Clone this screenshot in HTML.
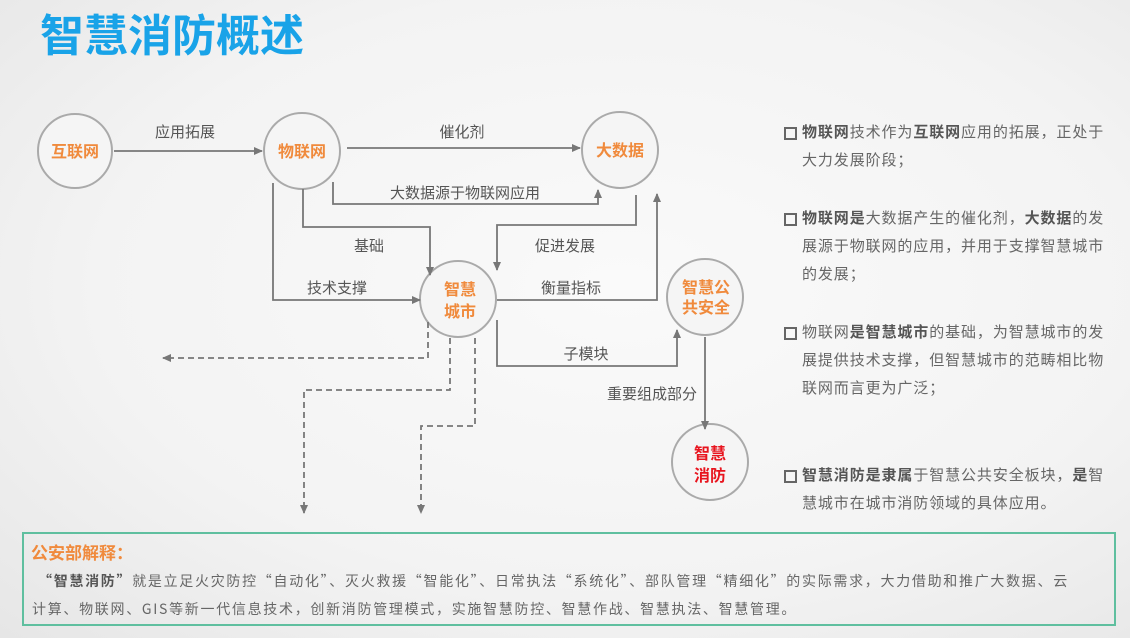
<!DOCTYPE html>
<html><head><meta charset="utf-8"><style>
html,body{margin:0;padding:0}
body{width:1130px;height:638px;overflow:hidden;position:relative;background:radial-gradient(ellipse at 55% 45%,#fafafa 0%,#f3f3f3 60%,#e6e6e6 100%);font-family:"Liberation Sans","Noto Sans CJK SC",sans-serif}
.title{position:absolute;left:40px;top:8px;font-size:44px;font-weight:bold;color:#19a3e8;letter-spacing:0px;line-height:58px}
svg{position:absolute;left:0;top:0}
.r{position:absolute;left:784px;width:322px;font-size:15px;color:#666;line-height:28px;letter-spacing:0.9px}
.r .b{position:absolute;left:0;top:8px;width:9px;height:9px;border:2px solid #666}
.r p{margin:0;padding-left:18px}
.r b{color:#555}
.box{position:absolute;left:22px;top:532px;width:1090px;height:90px;border:2px solid #5fbf9f}
.box .h{position:absolute;left:7px;top:5px;font-size:17px;font-weight:bold;color:#f08a3c}
.box .t{position:absolute;left:8px;top:33px;width:1074px;font-family:"Noto Sans CJK SC","Liberation Sans",sans-serif;font-size:14px;letter-spacing:1.7px;color:#666;line-height:28px;text-indent:6px}
</style></head><body>
<div class="title">智慧消防概述</div>
<svg width="1130" height="638" viewBox="0 0 1130 638">
<defs><marker id="a" markerWidth="10" markerHeight="10" refX="8" refY="5" orient="auto" markerUnits="userSpaceOnUse"><path d="M0,1 L9,5 L0,9 z" fill="#777"/></marker></defs>
<g fill="none" stroke="#888" stroke-width="2">
<circle cx="75" cy="151" r="37" fill="#f5f5f5" stroke="#aaa"/>
<circle cx="302" cy="151" r="38" fill="#f5f5f5" stroke="#aaa"/>
<circle cx="620" cy="150" r="38" fill="#f5f5f5" stroke="#aaa"/>
<circle cx="458" cy="299" r="38" fill="#f5f5f5" stroke="#aaa"/>
<circle cx="705" cy="297" r="38" fill="#f5f5f5" stroke="#aaa"/>
<circle cx="710" cy="462" r="38" fill="#f5f5f5" stroke="#aaa"/>
</g>
<g fill="none" stroke="#777" stroke-width="1.8" marker-end="url(#a)">
<path d="M114,151 H262"/>
<path d="M347,148 H580"/>
<path d="M333,182 V204 H598 V190"/>
<path d="M303,189 V227 H430 V275"/>
<path d="M273,183 V300 H420"/>
<path d="M636,195 V225 H497 V270"/>
<path d="M497,300 H657 V194"/>
<path d="M497,320 V366 H677 V330"/>
<path d="M705,337 V429"/>
</g>
<g fill="none" stroke="#777" stroke-width="1.8" stroke-dasharray="6,4" marker-end="url(#a)">
<path d="M428,322 V358 H163"/>
<path d="M450,338 V390 H304 V513"/>
<path d="M475,338 V426 H421 V513"/>
</g>
<g font-size="15" fill="#555" text-anchor="middle" font-family="Liberation Sans,Noto Sans CJK SC,sans-serif">
<text x="185" y="137">应用拓展</text>
<text x="462" y="137">催化剂</text>
<text x="465" y="198">大数据源于物联网应用</text>
<text x="369" y="251">基础</text>
<text x="565" y="251">促进发展</text>
<text x="337" y="293">技术支撑</text>
<text x="571" y="293">衡量指标</text>
<text x="586" y="359">子模块</text>
<text x="652" y="399">重要组成部分</text>
</g>
<g font-size="16" font-weight="bold" fill="#f08a3c" text-anchor="middle" font-family="Liberation Sans,Noto Sans CJK SC,sans-serif">
<text x="75" y="157">互联网</text>
<text x="302" y="157">物联网</text>
<text x="620" y="156">大数据</text>
<text x="460" y="295">智慧</text><text x="460" y="317">城市</text>
<text x="706" y="293">智慧公</text><text x="706" y="313">共安全</text>
<text x="710" y="459" fill="#e8141e">智慧</text><text x="710" y="481" fill="#e8141e">消防</text>
</g>
</svg>
<div class="r" style="top:119px"><span class="b"></span><p><b>物联网</b>技术作为<b>互联网</b>应用的拓展，正处于大力发展阶段；</p></div>
<div class="r" style="top:205px"><span class="b"></span><p><b>物联网是</b>大数据产生的催化剂，<b>大数据</b>的发展源于物联网的应用，并用于支撑智慧城市的发展；</p></div>
<div class="r" style="top:319px"><span class="b"></span><p>物联网<b>是智慧城市</b>的基础，为智慧城市的发展提供技术支撑，但智慧城市的范畴相比物联网而言更为广泛；</p></div>
<div class="r" style="top:462px"><span class="b"></span><p><b>智慧消防是隶属</b>于智慧公共安全板块，<b>是</b>智慧城市在城市消防领域的具体应用。</p></div>
<div class="box"><div class="h">公安部解释：</div>
<div class="t"><b style="color:#555">“智慧消防”</b>就是立足火灾防控“自动化”、灭火救援“智能化”、日常执法“系统化”、部队管理“精细化”的实际需求，大力借助和推广大数据、云<br>计算、物联网、GIS等新一代信息技术，创新消防管理模式，实施智慧防控、智慧作战、智慧执法、智慧管理。</div></div>
</body></html>
